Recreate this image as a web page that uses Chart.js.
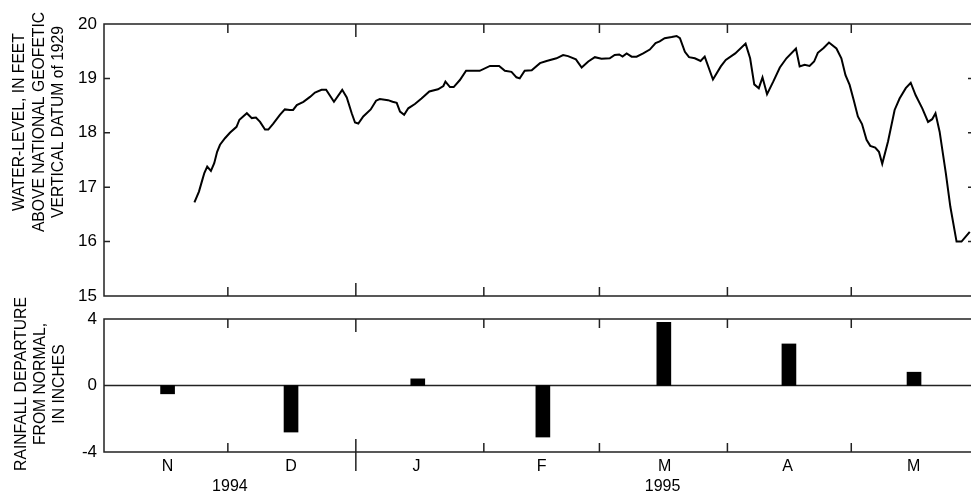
<!DOCTYPE html>
<html lang="en">
<head>
<meta charset="UTF-8">
<title>Water level and rainfall departure</title>
<script src="https://cdn.jsdelivr.net/npm/chart.js"></script>
<style>
  body { margin: 0; background: #fff; }
  .wrap { position: relative; width: 971px; height: 495px; }
  .box { position: absolute; left: 0; width: 971px; }
  #levelBox { top: 0; height: 305px; }
  #rainBox { top: 280px; height: 215px; }
</style>
</head>
<body>
<div class="wrap">
  <div class="box" id="levelBox"><canvas id="levelChart"></canvas></div>
  <div class="box" id="rainBox"><canvas id="rainChart"></canvas></div>
</div>
<script>
// x values are days counted from Nov 1, 1994
const monthLabels = ['N', 'D', 'J', 'F', 'M', 'A', 'M'];
const monthLabelDays = [15.4, 45.3, 75.7, 106, 135.8, 165.6, 196.1];
const monthBoundaryDays = [30, 61, 92, 120, 151, 181];
const yearBoundaryDay = 61;
const yearLabels = ['1994', '1995'];
const yearLabelDays = [30.5, 135.3];

const levelTitle = ['WATER-LEVEL, IN FEET', 'ABOVE NATIONAL GEOFETIC', 'VERTICAL DATUM of 1929'];
const rainTitle = ['RAINFALL DEPARTURE', 'FROM NORMAL,', 'IN INCHES'];

// daily water level (feet)
const levelDays = [21.9, 23.0, 23.8, 24.3, 25.0, 25.9, 26.7, 27.4, 28.1, 29.3, 30.5, 32.1, 32.8, 34.6, 35.8,
  36.8, 37.8, 39.0, 39.8, 41.0, 42.6, 43.8, 45.0, 45.8, 46.7, 48.3, 49.9, 51.1, 52.7, 53.8, 55.7, 57.7, 58.8,
  60.0, 60.8, 61.6, 62.8, 64.6, 65.9, 66.8, 68.8, 69.9, 70.9, 71.7, 72.7, 73.7, 75.3, 76.9, 78.8, 80.9, 82.2,
  82.7, 83.8, 84.7, 86.2, 87.7, 89.4, 91.0, 93.5, 95.7, 97.1, 98.7, 99.9, 100.7, 101.9, 103.6, 105.6, 107.2,
  109.6, 111.2, 112.4, 114.3, 115.7, 117.3, 118.9, 120.5, 122.5, 123.7, 124.8, 125.6, 126.6, 127.8, 129.0,
  130.6, 132.2, 133.6, 134.6, 135.8, 137.5, 138.7, 139.5, 140.7, 141.7, 143.1, 144.5, 145.5, 147.5, 149.4,
  150.6, 152.9, 155.4, 156.5, 157.5, 158.6, 159.5, 160.6, 162.1, 163.7, 165.3, 167.6, 168.5, 169.7, 170.9,
  172.0, 172.9, 174.3, 175.6, 177.4, 178.6, 179.6, 180.6, 181.6, 182.6, 183.6, 184.7, 185.6, 186.8, 187.7,
  188.5, 189.9, 191.5, 192.7, 194.2, 195.4, 196.6, 198.2, 199.6, 200.6, 201.4, 202.4, 203.9, 205.0, 206.5,
  207.7, 209.7];
const levelValues = [16.72, 16.92, 17.13, 17.26, 17.38, 17.30, 17.44, 17.65, 17.78, 17.90, 18.00, 18.11, 18.24,
  18.36, 18.27, 18.28, 18.20, 18.06, 18.06, 18.17, 18.33, 18.43, 18.42, 18.42, 18.51, 18.57, 18.66, 18.74,
  18.79, 18.79, 18.57, 18.79, 18.65, 18.36, 18.19, 18.17, 18.30, 18.43, 18.59, 18.62, 18.60, 18.57, 18.55,
  18.39, 18.33, 18.45, 18.53, 18.63, 18.76, 18.80, 18.86, 18.94, 18.84, 18.84, 18.97, 19.14, 19.14, 19.14,
  19.23, 19.23, 19.14, 19.12, 19.02, 19.00, 19.14, 19.15, 19.28, 19.32, 19.37, 19.43, 19.41, 19.35, 19.20,
  19.31, 19.39, 19.36, 19.37, 19.43, 19.44, 19.40, 19.46, 19.40, 19.40, 19.46, 19.53, 19.65, 19.68, 19.74,
  19.76, 19.78, 19.74, 19.49, 19.39, 19.37, 19.32, 19.40, 18.98, 19.22, 19.34, 19.46, 19.64, 19.37, 18.89,
  18.82, 19.02, 18.71, 18.94, 19.20, 19.37, 19.55, 19.22, 19.25, 19.23, 19.31, 19.47, 19.56, 19.66, 19.55,
  19.37, 19.06, 18.88, 18.60, 18.30, 18.16, 17.87, 17.76, 17.73, 17.65, 17.43, 17.84, 18.42, 18.63, 18.82,
  18.92, 18.69, 18.45, 18.20, 18.25, 18.36, 18.02, 17.26, 16.64, 16.00, 16.00, 16.18];

// monthly rainfall departure (inches)
const rainDays = [15.4, 45.3, 76, 106.3, 135.6, 165.9, 196.2];
const rainValues = [-0.5, -2.8, 0.4, -3.1, 3.8, 2.5, 0.8];

const fontFamily = '"Liberation Sans", Arial, sans-serif';
Chart.defaults.font.family = fontFamily;
Chart.defaults.color = '#000';

// box lines and inward tick marks
const frame = {
  id: 'frame',
  beforeDatasetsDraw(chart, args, opts) {
    if (!opts.zeroLine) return;
    const { ctx, chartArea: a, scales } = chart;
    const py = scales.y.getPixelForValue(0);
    ctx.save();
    ctx.strokeStyle = '#222';
    ctx.lineWidth = 1.5;
    ctx.beginPath();
    ctx.moveTo(a.left, py);
    ctx.lineTo(a.right, py);
    ctx.stroke();
    ctx.restore();
  },
  afterDatasetsDraw(chart, args, opts) {
    const { ctx, chartArea: a, scales } = chart;
    const x = scales.x, y = scales.y;
    ctx.save();
    ctx.strokeStyle = '#222';
    ctx.lineWidth = 1.5;
    ctx.beginPath();
    ctx.moveTo(a.right, a.top);
    ctx.lineTo(a.left, a.top);
    ctx.lineTo(a.left, a.bottom);
    ctx.lineTo(a.right, a.bottom);
    monthBoundaryDays.forEach(d => {
      const px = x.getPixelForValue(d);
      const isYear = d === yearBoundaryDay;
      const len = isYear ? 13 : 9;
      ctx.moveTo(px, a.top);
      ctx.lineTo(px, a.top + len);
      ctx.moveTo(px, a.bottom - len);
      ctx.lineTo(px, a.bottom + (isYear ? opts.yearDrop : 0));
    });
    if (opts.yTicks) {
      y.ticks.forEach(t => {
        const py = y.getPixelForValue(t.value);
        ctx.moveTo(a.left, py);
        ctx.lineTo(a.left + 6, py);
        ctx.moveTo(a.right - 3, py);
        ctx.lineTo(a.right, py);
      });
    }
    ctx.stroke();
    ctx.restore();
  }
};

// rotated multi-line axis titles
const axisTitle = {
  id: 'axisTitle',
  afterDraw(chart, args, opts) {
    const ctx = chart.ctx;
    ctx.save();
    ctx.translate(opts.x, opts.y);
    ctx.rotate(-Math.PI / 2);
    ctx.font = '15.7px ' + fontFamily;
    ctx.fillStyle = '#000';
    ctx.textAlign = 'center';
    ctx.textBaseline = 'middle';
    const n = opts.lines.length;
    opts.lines.forEach((t, i) => ctx.fillText(t, 0, (i - (n - 1) / 2) * opts.gap));
    ctx.restore();
  }
};

// year labels under the month letters
const yearText = {
  id: 'yearText',
  afterDraw(chart, args, opts) {
    const { ctx, scales } = chart;
    ctx.save();
    ctx.font = '16px ' + fontFamily;
    ctx.fillStyle = '#000';
    ctx.textAlign = 'center';
    ctx.textBaseline = 'middle';
    yearLabels.forEach((t, i) => ctx.fillText(t, scales.x.getPixelForValue(yearLabelDays[i]), opts.y));
    ctx.restore();
  }
};

const yTickFont = { size: 17, lineHeight: 1 };
// keep label half-heights from eating into the plot box
const noPad = s => { s.paddingTop = 0; s.paddingBottom = 0; s.paddingLeft = 0; s.paddingRight = 0; };

new Chart(document.getElementById('levelChart'), {
  type: 'line',
  data: {
    datasets: [{
      data: levelDays.map((d, i) => ({ x: d, y: levelValues[i] })),
      borderColor: '#000',
      borderWidth: 2,
      pointRadius: 0,
      tension: 0
    }]
  },
  options: {
    responsive: true,
    maintainAspectRatio: false,
    animation: false,
    layout: { padding: { top: 24, bottom: 9, left: 0, right: 0 } },
    plugins: {
      legend: { display: false },
      tooltip: { enabled: false },
      frame: { yTicks: true, yearDrop: 0 },
      axisTitle: { lines: levelTitle, x: 39.5, y: 122, gap: 19.5 }
    },
    scales: {
      x: { type: 'linear', min: 0, max: 210, display: false },
      y: {
        min: 15, max: 20,
        ticks: { stepSize: 1, padding: 7, color: '#000', font: yTickFont },
        grid: { display: false, drawTicks: false },
        border: { display: false },
        afterFit: s => { s.width = 104; noPad(s); }
      }
    }
  },
  plugins: [frame, axisTitle]
});

new Chart(document.getElementById('rainChart'), {
  type: 'bar',
  data: {
    datasets: [{
      data: rainDays.map((d, i) => ({ x: d, y: rainValues[i] })),
      backgroundColor: '#000',
      borderWidth: 0,
      barThickness: 14
    }]
  },
  options: {
    responsive: true,
    maintainAspectRatio: false,
    animation: false,
    layout: { padding: { top: 39, bottom: 0, left: 0, right: 0 } },
    plugins: {
      legend: { display: false },
      tooltip: { enabled: false },
      frame: { yTicks: false, yearDrop: 19, zeroLine: true },
      axisTitle: { lines: rainTitle, x: 41, y: 104, gap: 19 },
      yearText: { y: 207 }
    },
    scales: {
      x: {
        type: 'linear', min: 0, max: 210, offset: false,
        afterBuildTicks: s => { s.ticks = monthLabelDays.map(v => ({ value: v })); },
        ticks: {
          autoSkip: false, maxRotation: 0, padding: 5, color: '#000',
          font: { size: 16 },
          callback: (v, i) => monthLabels[i]
        },
        grid: { display: false, drawTicks: false },
        border: { display: false },
        afterFit: s => { s.height = 43; noPad(s); }
      },
      y: {
        min: -4, max: 4,
        ticks: { stepSize: 4, padding: 7, color: '#000', font: yTickFont },
        grid: { display: false, drawTicks: false },
        border: { display: false },
        afterFit: s => { s.width = 104; noPad(s); }
      }
    }
  },
  plugins: [frame, axisTitle, yearText]
});
</script>
</body>
</html>
